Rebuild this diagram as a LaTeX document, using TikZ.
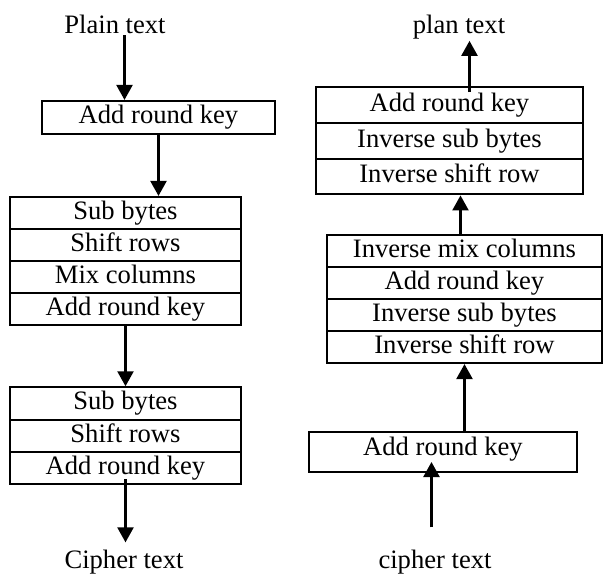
\documentclass[tikz,border=0pt]{standalone}
\usepackage{fontspec}
\setmainfont{Liberation Serif}
\usepackage{tikz}
\usetikzlibrary{arrows.meta}

\tikzset{
  every node/.style={font=\fontsize{26.6}{30}\selectfont},
  rowbox/.style={draw, line width=2.2pt, inner sep=0pt, text height=18.6pt, text depth=6.4pt},
  arr/.style={line width=2.4pt, -{Triangle[width=16pt,length=15pt]}},
  lbl/.style={inner sep=2pt, anchor=base}
}

\begin{document}
\begin{tikzpicture}[x=1pt,y=-1pt]
\useasboundingbox (0,0) rectangle (603,574);

% encryption
\node[lbl] (plain) at (115,33) {Plain text};
\node[rowbox, minimum width=233pt, minimum height=33pt] (enc0) at (158.5,117.5) {Add round key};

\node[rowbox, minimum width=231pt, minimum height=32pt] (r1a) at (125.5,213) {Sub bytes};
\node[rowbox, minimum width=231pt, minimum height=32pt] (r1b) at (125.5,245) {Shift rows};
\node[rowbox, minimum width=231pt, minimum height=32pt] (r1c) at (125.5,277) {Mix columns};
\node[rowbox, minimum width=231pt, minimum height=32pt] (r1d) at (125.5,309) {Add round key};

\node[rowbox, minimum width=231pt, minimum height=32.3pt] (r2a) at (125.5,403.5) {Sub bytes};
\node[rowbox, minimum width=231pt, minimum height=32.3pt] (r2b) at (125.5,436) {Shift rows};
\node[rowbox, minimum width=231pt, minimum height=32.3pt] (r2c) at (125.5,468) {Add round key};
\node[lbl] (cipher) at (124,568) {Cipher text};

\draw[arr] ([xshift=9.5pt]plain.south) -- ([xshift=9.5pt]plain.south |- enc0.north);
\draw[arr] (enc0.south) -- (enc0.south |- r1a.north);
\draw[arr] (r1d.south) -- (r2a.north);
\coordinate (r2cfoot) at ([yshift=6pt]r2c.south);
\draw[arr, shorten >=5pt] (r2cfoot) -- (r2cfoot |- cipher.north);

% decryption
\node[lbl] (plan) at (459,33) {plan text};
\node[rowbox, minimum width=267pt, minimum height=35.7pt] (d1a) at (449.5,105) {Add round key};
\node[rowbox, minimum width=267pt, minimum height=35.7pt] (d1b) at (449.5,141) {Inverse sub bytes};
\node[rowbox, minimum width=267pt, minimum height=35.7pt] (d1c) at (449.5,176.5) {Inverse shift row};

\node[rowbox, minimum width=275pt, minimum height=32pt] (d2a) at (464.5,251) {Inverse mix columns};
\node[rowbox, minimum width=275pt, minimum height=32pt] (d2b) at (464.5,283) {Add round key};
\node[rowbox, minimum width=275pt, minimum height=32pt] (d2c) at (464.5,315) {Inverse sub bytes};
\node[rowbox, minimum width=275pt, minimum height=32pt] (d2d) at (464.5,347) {Inverse shift row};

\node[rowbox, text depth=12.6pt, minimum width=268pt, minimum height=40pt] (d3) at (443,452) {Add round key};
\node[lbl] (cipher2) at (435,568) {cipher text};

\coordinate (planfoot) at ([xshift=20pt,yshift=-6pt]d1a.north);
\draw[arr] (planfoot) -- (planfoot |- plan.south);
\coordinate (d2foot) at ([xshift=-4pt]d2a.north);
\draw[arr] (d2foot) -- (d2foot |- d1c.south);
\draw[arr] (d3.north -| d2d.south) -- (d2d.south);
\coordinate (c2top) at ([xshift=-3.5pt,yshift=20pt]cipher2.north);
\coordinate (d3tip) at ([yshift=-10pt]d3.center);
\draw[arr] (c2top) -- (c2top |- d3tip);

\end{tikzpicture}
\end{document}
